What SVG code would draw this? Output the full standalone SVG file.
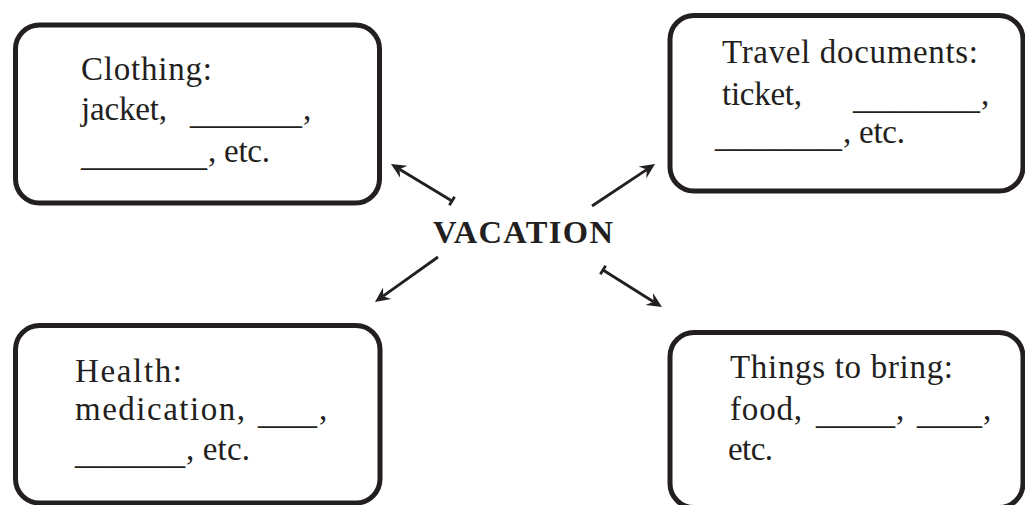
<svg xmlns="http://www.w3.org/2000/svg" width="1025" height="505" viewBox="0 0 1025 505">
  <style>
    .box { fill: #ffffff; stroke: #231f20; stroke-width: 5; }
    .t { font-family: "Liberation Serif", "Times New Roman", serif; font-size: 33px; fill: #231f20; }
    .title { font-family: "Liberation Serif", "Times New Roman", serif; font-size: 32.5px; font-weight: bold; fill: #231f20; }
    .conn { stroke: #231f20; stroke-width: 2.8; fill: none; }
  </style>
  <defs>
    <marker id="head" markerUnits="userSpaceOnUse" markerWidth="22" markerHeight="22" viewBox="-2 -11 22 22" refX="5" refY="0" orient="auto">
      <path d="M0,-7 L15,0 L0,7 L5,0 Z" fill="#231f20"/>
    </marker>
    <marker id="bar" markerUnits="userSpaceOnUse" markerWidth="12" markerHeight="14" viewBox="-6 -7 12 14" refX="0" refY="0" orient="auto">
      <line x1="0" y1="-5" x2="0" y2="5" stroke="#231f20" stroke-width="2.8"/>
    </marker>
  </defs>
  <rect width="1025" height="505" fill="#ffffff"/>

  <g id="clothing">
    <rect class="box" x="15.5" y="25" width="364" height="178" rx="24"/>
    <text class="t" x="81" y="80" textLength="131" lengthAdjust="spacing">Clothing:</text>
    <text class="t" y="120"><tspan x="81" textLength="86" lengthAdjust="spacing">jacket,</tspan><tspan x="190" dy="4" textLength="112" lengthAdjust="spacingAndGlyphs">______</tspan><tspan x="303" dy="-4">,</tspan></text>
    <text class="t" y="166"><tspan x="81" textLength="126" lengthAdjust="spacingAndGlyphs">_______</tspan><tspan x="208" dy="-4" textLength="62" lengthAdjust="spacing">, etc.</tspan></text>
  </g>

  <g id="travel">
    <rect class="box" x="670" y="15.5" width="353" height="175.5" rx="24"/>
    <text class="t" x="722" y="63" textLength="256" lengthAdjust="spacing">Travel documents:</text>
    <text class="t" y="105"><tspan x="722" textLength="80" lengthAdjust="spacing">ticket,</tspan><tspan x="853" dy="4" textLength="127" lengthAdjust="spacingAndGlyphs">_______</tspan><tspan x="981" dy="-4">,</tspan></text>
    <text class="t" y="147"><tspan x="715" textLength="127" lengthAdjust="spacingAndGlyphs">_______</tspan><tspan x="843" dy="-4" textLength="62" lengthAdjust="spacing">, etc.</tspan></text>
  </g>

  <g id="health">
    <rect class="box" x="15.5" y="325.5" width="364.5" height="177.5" rx="24"/>
    <text class="t" x="75" y="382" textLength="107" lengthAdjust="spacing">Health:</text>
    <text class="t" y="420"><tspan x="75" textLength="170" lengthAdjust="spacing">medication,</tspan><tspan x="258" dy="4" textLength="59" lengthAdjust="spacingAndGlyphs">___</tspan><tspan x="319" dy="-4">,</tspan></text>
    <text class="t" y="464"><tspan x="75" textLength="110" lengthAdjust="spacingAndGlyphs">______</tspan><tspan x="186" dy="-4" textLength="64" lengthAdjust="spacing">, etc.</tspan></text>
  </g>

  <g id="things">
    <rect class="box" x="670" y="332.5" width="353" height="175" rx="24"/>
    <text class="t" x="730" y="378" textLength="223" lengthAdjust="spacing">Things to bring:</text>
    <text class="t" y="420"><tspan x="730" textLength="72" lengthAdjust="spacing">food,</tspan><tspan x="816" dy="4" textLength="79" lengthAdjust="spacingAndGlyphs">____</tspan><tspan x="896" dy="-4">,</tspan><tspan x="917" dy="4" textLength="65" lengthAdjust="spacingAndGlyphs">___</tspan><tspan x="983" dy="-4">,</tspan></text>
    <text class="t" x="728" y="460" textLength="45" lengthAdjust="spacing">etc.</text>
  </g>

  <g id="vacation">
    <text class="title" x="433" y="243" textLength="180" lengthAdjust="spacing">VACATION</text>
  </g>

  <g id="connectors">
    <path class="conn" d="M452,201 L399.5,169.2" marker-start="url(#bar)" marker-end="url(#head)"/>
    <path class="conn" d="M592,206 L646.7,169.6" marker-end="url(#head)"/>
    <path class="conn" d="M438,257 L383.1,296.2" marker-end="url(#head)"/>
    <path class="conn" d="M603,270 L653.5,301.7" marker-start="url(#bar)" marker-end="url(#head)"/>
  </g>
</svg>
